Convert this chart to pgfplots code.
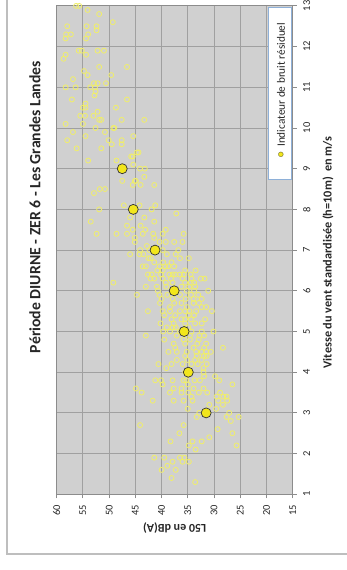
\documentclass[border=0pt]{standalone}
\usepackage{fontspec}
\setmainfont{Carlito}
\newfontfamily\symfont{DejaVu Sans}
\usepackage{pgfplots}
\usepackage{pgfplotstable}
\pgfplotsset{compat=1.18}
\definecolor{plotbg}{HTML}{D0D0D0}
\definecolor{gridc}{HTML}{A0A0A0}
\definecolor{axisc}{HTML}{8C8C8C}
\definecolor{scy}{HTML}{F0EE6A}
\definecolor{bigy}{HTML}{F2E61C}
\definecolor{legb}{HTML}{8EB0D8}
\definecolor{framec}{HTML}{BEBEBE}
\definecolor{txt}{HTML}{262626}

\pgfplotstableread{
x y
56.3 13.0
55.7 13.0
54.1 12.9
51.9 12.8
49.3 12.6
58.0 12.5
54.3 12.5
52.4 12.5
52.4 12.4
58.2 12.3
57.3 12.3
58.3 12.2
54.4 12.2
54.0 12.3
55.8 11.9
55.2 11.9
52.2 11.9
51.0 11.9
58.3 11.8
58.7 11.7
54.4 11.8
51.9 11.5
46.6 11.5
54.8 11.4
54.1 11.3
49.6 11.3
56.9 11.2
52.9 11.1
52.2 11.1
50.6 11.1
58.3 11.0
56.4 11.0
53.6 11.0
52.7 11.0
52.6 10.9
52.8 10.8
57.1 10.7
46.6 10.7
54.5 10.6
54.5 10.5
55.0 10.5
48.7 10.5
52.2 10.4
55.5 10.3
54.6 10.3
53.0 10.3
51.9 10.2
51.5 10.2
47.6 10.2
43.3 10.2
58.3 10.1
55.0 10.1
52.6 10.0
49.2 10.0
49.0 10.0
56.9 9.9
50.8 9.9
54.5 9.8
45.4 9.8
58.0 9.7
50.1 9.7
47.6 9.7
49.5 9.6
47.6 9.6
56.2 9.5
51.5 9.5
44.7 9.4
44.4 9.4
45.8 9.3
45.5 9.3
48.6 9.2
54.0 9.2
45.4 9.1
44.1 9.0
43.2 9.0
43.3 8.8
47.5 8.7
45.1 8.7
44.9 8.7
45.5 8.6
44.0 8.6
41.4 8.6
51.8 8.5
50.8 8.5
52.9 8.4
47.2 8.1
44.2 8.1
41.2 8.1
51.9 8.0
41.9 8.0
46.0 7.8
43.3 7.8
37.2 7.9
53.5 7.7
41.4 7.7
46.6 7.6
44.0 7.6
45.5 7.5
43.1 7.5
52.4 7.4
48.6 7.4
46.6 7.4
43.6 7.4
41.6 7.4
39.8 7.4
35.8 7.4
39.2 7.5
45.1 7.3
41.4 7.3
45.1 7.2
40.4 7.2
39.2 7.2
37.6 7.2
36.0 7.2
42.8 7.1
36.8 7.0
44.1 7.0
42.3 7.0
39.8 7.0
46.0 6.9
44.2 6.9
43.5 6.9
39.0 6.9
37.3 6.9
34.8 6.8
42.5 6.8
42.1 6.8
41.4 6.7
39.7 6.7
38.1 6.7
36.5 6.8
43.6 6.6
43.0 6.6
40.4 6.6
39.3 6.6
38.7 6.6
37.6 6.6
40.8 6.5
39.8 6.5
33.5 6.5
35.5 6.5
42.6 6.4
41.9 6.4
40.1 6.4
38.5 6.4
37.9 6.4
37.4 6.4
36.5 6.4
35.8 6.4
34.45 6.4
42.1 6.3
41.4 6.3
39.8 6.3
38.2 6.3
36.0 6.3
34.3 6.3
32.5 6.3
31.8 6.3
49.2 6.2
39.2 6.2
37.9 6.2
35.5 6.2
34.4 6.2
33.8 6.2
43.0 6.1
40.9 6.1
39.1 6.1
36.2 6.1
34.7 6.1
33.6 6.1
40.7 6.0
35.2 6.0
33.8 6.0
31.1 6.0
44.7 5.9
40.4 5.9
38.9 5.9
36.5 5.9
34.4 5.9
33.0 5.9
40.0 5.8
37.9 5.8
35.4 5.8
33.9 5.8
32.35 5.8
40.3 5.7
37.6 5.7
36.2 5.7
33.9 5.7
32.9 5.7
38.4 5.6
35.2 5.6
32.35 5.6
31.5 5.6
42.6 5.5
39.8 5.5
38.4 5.5
36.5 5.5
35.5 5.5
34.7 5.5
33.4 5.5
30.4 5.5
39.5 5.4
37.4 5.4
34.8 5.4
33.8 5.4
38.1 5.3
36.2 5.3
35.5 5.3
34.4 5.3
31.7 5.3
40.2 5.2
37.7 5.2
35.5 5.2
33.6 5.2
32.35 5.2
39.0 5.1
37.9 5.1
37.3 5.1
34.9 5.1
39.7 5.0
38.4 5.0
36.5 5.0
34.3 5.0
32.35 5.0
30.1 5.0
43.0 4.9
37.1 4.9
34.6 4.9
32.8 4.9
31.9 4.9
39.5 4.8
35.8 4.8
34.6 4.8
32.9 4.8
37.7 4.7
35.5 4.7
33.2 4.7
31.5 4.7
37.4 4.6
31.9 4.6
28.3 4.6
33.9 4.6
38.7 4.5
37.1 4.5
35.2 4.5
33.4 4.5
32.35 4.5
31.5 4.5
30.6 4.5
35.5 4.4
33.3 4.4
31.9 4.4
31.4 4.4
37.1 4.3
35.1 4.3
33.6 4.3
32.35 4.3
40.6 4.2
38.1 4.2
36.0 4.2
34.3 4.2
33.1 4.2
31.4 4.2
39.1 4.1
32.0 4.1
35.5 4.0
34.6 4.0
32.0 4.0
31.9 3.9
29.8 3.9
41.2 3.8
40.1 3.8
37.9 3.8
35.8 3.8
35.3 3.8
33.7 3.8
32.7 3.8
29.0 3.8
39.8 3.7
35.0 3.7
26.5 3.7
37.7 3.6
36.2 3.6
33.9 3.6
32.0 3.6
44.9 3.6
43.8 3.5
38.4 3.5
36.2 3.5
34.9 3.5
32.9 3.5
31.3 3.5
28.85 3.5
34.3 3.4
29.5 3.4
28.2 3.4
27.6 3.4
41.7 3.3
37.7 3.3
35.8 3.3
34.1 3.3
29.2 3.3
27.5 3.3
30.9 3.2
28.3 3.2
35.0 3.1
29.6 3.1
32.8 3.0
27.1 3.0
33.3 2.9
27.6 2.9
25.3 2.9
26.8 2.8
44.1 2.7
35.8 2.7
29.3 2.6
36.6 2.5
26.5 2.5
30.9 2.4
38.3 2.3
34.1 2.3
32.35 2.3
34.8 2.2
25.7 2.2
33.5 2.1
41.4 1.9
39.5 1.9
36.5 1.9
35.65 1.9
37.9 1.8
36.0 1.8
34.8 1.8
38.9 1.7
40.0 1.6
37.3 1.6
38.1 1.4
33.6 1.3
}\scatterdata

\pgfplotstableread{
x y
31.5 3
34.9 4
35.7 5
37.6 6
41.25 7
45.4 8
47.5 9
}\meandata

\begin{document}
\begin{tikzpicture}
\begin{axis}[
  at={(56.7bp,75.7bp)}, anchor=south west,
  scale only axis, width=236bp, height=488.4bp,
  xmin=15, xmax=60, ymin=1, ymax=13, x dir=reverse,
  xtick={15,20,...,60}, ytick={1,2,...,13},
  axis background/.style={fill=plotbg},
  grid=major, major grid style={gridc, line width=0.9bp},
  axis line style={axisc, line width=0.9bp},
  tick style={axisc, line width=0.9bp},
  tick align=outside, major tick length=4bp,
  xtick pos=bottom, ytick pos=right, yticklabel pos=right,
  /pgf/number format/assume math mode=true,
  xticklabel style={rotate=90, anchor=east, font=\fontsize{10.5}{12}\selectfont, text=txt},
  yticklabel style={rotate=90, anchor=north, font=\fontsize{10.5}{12}\selectfont, text=txt},
  xticklabel shift=3bp, yticklabel shift=3bp,
  xlabel={\resizebox{63bp}{!}{L50 en dB(A)}},
  xlabel style={rotate=180, at={(axis description cs:0.5,-0.0696)}, anchor=center, font=\bfseries\fontsize{10}{12}\selectfont, text=txt},
  ylabel={\resizebox{232bp}{!}{Vitesse du vent standardisée (h=10m)\ \ en m/s}},
  ylabel style={at={(axis description cs:1.1496,0.4955)}, anchor=center, font=\bfseries\fontsize{10}{12}\selectfont, text=txt},
]
\addplot[only marks, mark=o, mark size=2.5bp, draw=scy, line width=0.8bp] table[x=x,y=y] {\scatterdata};
\addplot[only marks, mark=*, mark size=5bp, mark options={fill=bigy, draw=black!80, line width=0.7bp}] table[x=x,y=y] {\meandata};
\end{axis}
\draw[framec, line width=1.2bp] (7bp,570bp) -- (7bp,16bp) -- (347bp,16bp);
\node[rotate=90, font=\bfseries\fontsize{12.6}{15}\selectfont, text=txt] at (35bp,363bp) {\resizebox{292bp}{!}{Période DIURNE - ZER 6 - Les Grandes Landes}};
% legend
\draw[legb, fill=white, line width=0.8bp] (268.3bp,391bp) rectangle (291.7bp,563bp);
\node[inner sep=0pt, font=\symfont\fontsize{6.5}{8}\selectfont] at (281bp,415bp) {\rlap{\textcolor{bigy}{●}}\textcolor{black!80}{○}};
\node[rotate=90, anchor=west, inner sep=0pt, font=\fontsize{11}{13}\selectfont, text=txt] at (281bp,423bp)
  {\resizebox{124bp}{!}{Indicateur de bruit résiduel}};
\pgfresetboundingbox
\path[use as bounding box] (0,0) rectangle (347bp,570bp);
\end{tikzpicture}
\end{document}
